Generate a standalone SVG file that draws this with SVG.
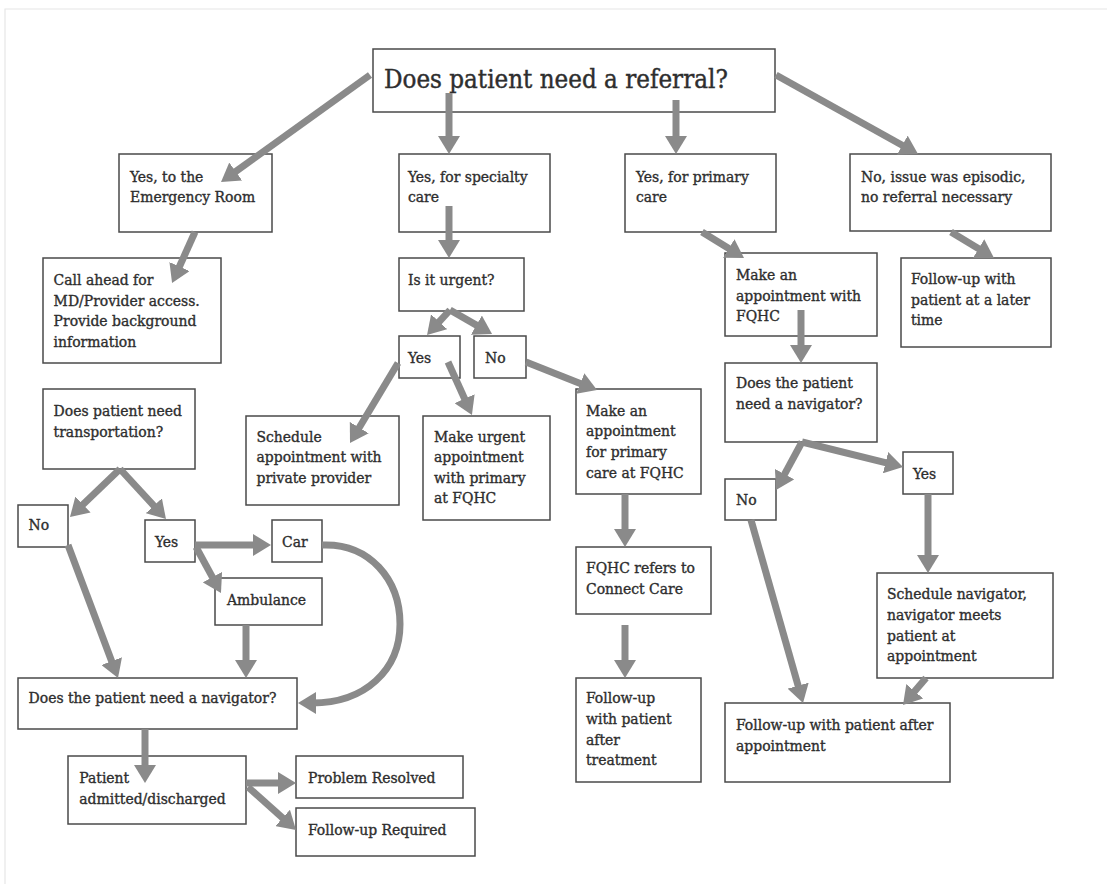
<svg xmlns="http://www.w3.org/2000/svg" width="1107" height="884" viewBox="0 0 1107 884">
<style>
  .box { fill: #ffffff; stroke: #4a4a4a; stroke-width: 1.5; }
  .t { font-family: "DejaVu Serif Condensed", "DejaVu Serif", "Liberation Serif", serif; font-stretch: condensed; font-size: 15.5px; fill: #2e2e2e; stroke: #2e2e2e; stroke-width: 0.35; }
  .big { font-size: 25.7px; stroke-width: 0.4; }
  .c { fill: none; stroke: #8a8a8a; stroke-width: 7; marker-end: url(#ah); }
</style>
<defs>
  <marker id="ah" markerUnits="userSpaceOnUse" markerWidth="20" markerHeight="22" refX="4" refY="11" orient="auto" viewBox="0 0 20 22">
    <path d="M0,0 L18,11 L0,22 z" fill="#8a8a8a"/>
  </marker>
  <filter id="soft" x="-5%" y="-5%" width="110%" height="110%">
    <feGaussianBlur stdDeviation="0.7"/>
  </filter>
</defs>
<rect x="0" y="0" width="1107" height="884" fill="#ffffff"/>
<path d="M5,884 L5,9 L1107,9" fill="none" stroke="#e6e6e6" stroke-width="1.2"/>

<g id="n_top"><rect class="box" x="373" y="49" width="402" height="63"/><text class="t big" x="384" y="88">Does patient need a referral?</text></g>
<g id="n_er"><rect class="box" x="119" y="154" width="153" height="78"/><text class="t" x="130" y="181.7">Yes, to the</text><text class="t" x="130" y="201.7">Emergency Room</text></g>
<g id="n_spec"><rect class="box" x="399" y="154" width="151" height="78"/><text class="t" x="408" y="181.7">Yes, for specialty</text><text class="t" x="408" y="201.7">care</text></g>
<g id="n_prim"><rect class="box" x="625" y="154" width="151" height="78"/><text class="t" x="636" y="181.7">Yes, for primary</text><text class="t" x="636" y="201.7">care</text></g>
<g id="n_epis"><rect class="box" x="850" y="154" width="201" height="77"/><text class="t" x="861" y="181.7">No, issue was episodic,</text><text class="t" x="861" y="201.7">no referral necessary</text></g>
<g id="n_call"><rect class="box" x="43" y="258" width="178" height="105"/><text class="t" x="53.6" y="285">Call ahead for</text><text class="t" x="53.6" y="305.5">MD/Provider access.</text><text class="t" x="53.6" y="326">Provide background</text><text class="t" x="53.6" y="346.5">information</text></g>
<g id="n_urgent"><rect class="box" x="399" y="258" width="125" height="53"/><text class="t" x="408" y="285">Is it urgent?</text></g>
<g id="n_mkfqhc"><rect class="box" x="725" y="253" width="152" height="83"/><text class="t" x="736" y="280">Make an</text><text class="t" x="736" y="300.5">appointment with</text><text class="t" x="736" y="321">FQHC</text></g>
<g id="n_fulater"><rect class="box" x="901" y="258" width="150" height="89"/><text class="t" x="911" y="284">Follow-up with</text><text class="t" x="911" y="304.5">patient at a later</text><text class="t" x="911" y="325">time</text></g>
<g id="n_yesu"><rect class="box" x="399" y="336" width="61" height="42"/><text class="t" x="408" y="363">Yes</text></g>
<g id="n_nou"><rect class="box" x="474" y="336" width="52" height="42"/><text class="t" x="485" y="363">No</text></g>
<g id="n_transp"><rect class="box" x="43" y="389" width="152" height="80"/><text class="t" x="53.6" y="415.7">Does patient need</text><text class="t" x="53.6" y="436.5">transportation?</text></g>
<g id="n_sched"><rect class="box" x="246" y="416" width="153" height="89"/><text class="t" x="256.5" y="441.7">Schedule</text><text class="t" x="256.5" y="462.3">appointment with</text><text class="t" x="256.5" y="482.5">private provider</text></g>
<g id="n_urgappt"><rect class="box" x="423" y="416" width="127" height="104"/><text class="t" x="434" y="441.7">Make urgent</text><text class="t" x="434" y="462">appointment</text><text class="t" x="434" y="482.5">with primary</text><text class="t" x="434" y="503">at FQHC</text></g>
<g id="n_mkprim"><rect class="box" x="576" y="389" width="125" height="105"/><text class="t" x="586" y="415.7">Make an</text><text class="t" x="586" y="436">appointment</text><text class="t" x="586" y="456.7">for primary</text><text class="t" x="586" y="477.5">care at FQHC</text></g>
<g id="n_navr"><rect class="box" x="725" y="363" width="152" height="79"/><text class="t" x="736" y="388">Does the patient</text><text class="t" x="736" y="409">need a navigator?</text></g>
<g id="n_not"><rect class="box" x="18" y="505" width="50" height="42"/><text class="t" x="28.6" y="530">No</text></g>
<g id="n_yest"><rect class="box" x="145" y="520" width="50" height="42"/><text class="t" x="155" y="546.5">Yes</text></g>
<g id="n_car"><rect class="box" x="272" y="520" width="50" height="42"/><text class="t" x="282" y="546.5">Car</text></g>
<g id="n_amb"><rect class="box" x="215" y="578" width="107" height="47"/><text class="t" x="227" y="605">Ambulance</text></g>
<g id="n_yesr"><rect class="box" x="903" y="452" width="50" height="42"/><text class="t" x="913" y="479">Yes</text></g>
<g id="n_nor"><rect class="box" x="725" y="479" width="51" height="41"/><text class="t" x="736" y="505">No</text></g>
<g id="n_fqhcref"><rect class="box" x="576" y="547" width="135" height="67"/><text class="t" x="586" y="573.3">FQHC refers to</text><text class="t" x="586" y="594">Connect Care</text></g>
<g id="n_schednav"><rect class="box" x="877" y="573" width="176" height="105"/><text class="t" x="887" y="599">Schedule navigator,</text><text class="t" x="887" y="620">navigator meets</text><text class="t" x="887" y="640.5">patient at</text><text class="t" x="887" y="661">appointment</text></g>
<g id="n_navl"><rect class="box" x="18" y="678" width="279" height="51"/><text class="t" x="28.6" y="703.3">Does the patient need a navigator?</text></g>
<g id="n_futreat"><rect class="box" x="576" y="678" width="125" height="104"/><text class="t" x="586" y="703.3">Follow-up</text><text class="t" x="586" y="724">with patient</text><text class="t" x="586" y="744.7">after</text><text class="t" x="586" y="765.3">treatment</text></g>
<g id="n_fuappt"><rect class="box" x="725" y="703" width="225" height="79"/><text class="t" x="736" y="730">Follow-up with patient after</text><text class="t" x="736" y="750.7">appointment</text></g>
<g id="n_patient"><rect class="box" x="68" y="756" width="178" height="68"/><text class="t" x="79.3" y="783.3">Patient</text><text class="t" x="79.3" y="803.5">admitted/discharged</text></g>
<g id="n_resolved"><rect class="box" x="296" y="756" width="167" height="42"/><text class="t" x="308" y="783.3">Problem Resolved</text></g>
<g id="n_fureq"><rect class="box" x="296" y="808" width="179" height="48"/><text class="t" x="308" y="835">Follow-up Required</text></g>

<g id="connectors" filter="url(#soft)">
  <path class="c" d="M370,75 L232.4,173.8"/>
  <path class="c" d="M449,93 L449,140"/>
  <path class="c" d="M676,100 L676,140"/>
  <path class="c" d="M776,75 L905.8,147.2"/>
  <path class="c" d="M195,232 L177.8,270.2"/>
  <path class="c" d="M449,206 L449,244"/>
  <path class="c" d="M702,232 L732.1,250.6"/>
  <path class="c" d="M951,232 L982,250.7"/>
  <path class="c" d="M801,310 L801,349"/>
  <path class="c" d="M450,310 L436.5,324.7"/>
  <path class="c" d="M450,310 L479.9,327.1"/>
  <path class="c" d="M398,363 L357.2,431"/>
  <path class="c" d="M448,362 L466.2,402.3"/>
  <path class="c" d="M526,362 L584,384.9"/>
  <path class="c" d="M625,494 L625,533"/>
  <path class="c" d="M625,625 L625,664"/>
  <path class="c" d="M802,442 L782.7,477.7"/>
  <path class="c" d="M802,442 L889.4,463.6"/>
  <path class="c" d="M751,520 L799.2,689.5"/>
  <path class="c" d="M928,494 L928,559"/>
  <path class="c" d="M926,678 L912.1,694.3"/>
  <path class="c" d="M120,469 L80.1,507.3"/>
  <path class="c" d="M120,469 L156.5,508.7"/>
  <path class="c" d="M195,545 L257,545"/>
  <path class="c" d="M196,547 L214.3,580.7"/>
  <path class="c" d="M68,545 L113.1,664.9"/>
  <path class="c" d="M246,625 L246,664"/>
  <path class="c" d="M322,545 C370,543 400,580 400,624 C400,670 365,703 312,703"/>
  <path class="c" d="M145,729 L145,769"/>
  <path class="c" d="M246,783 L282,783"/>
  <path class="c" d="M248,787 L285.6,820.6"/>
</g>
</svg>
